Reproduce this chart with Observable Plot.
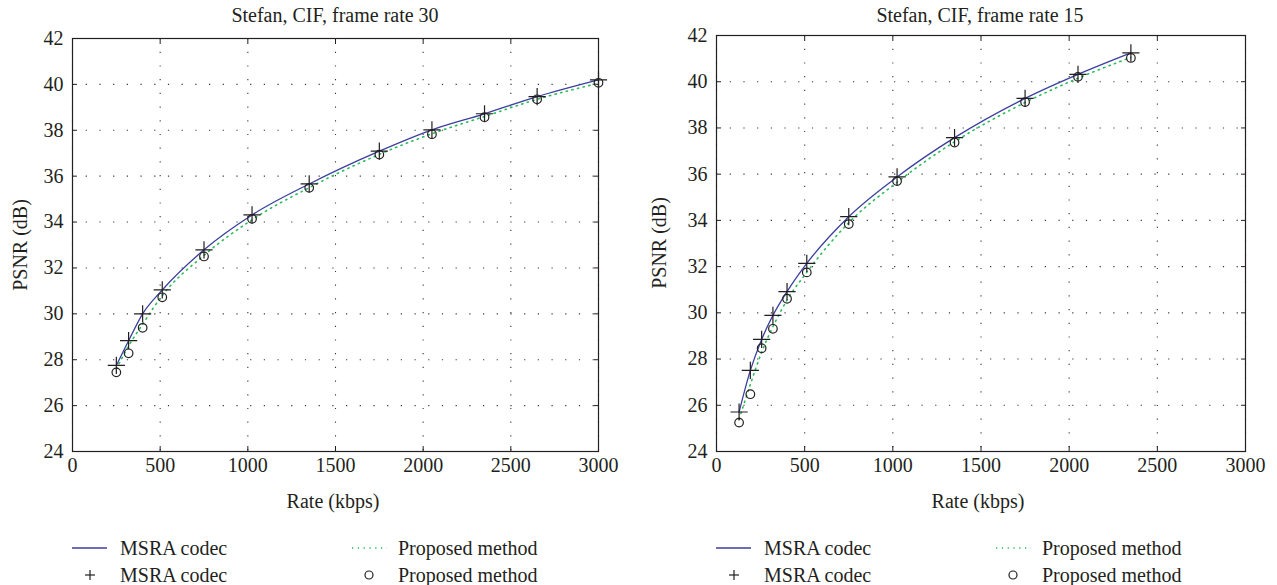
<!DOCTYPE html>
<html><head><meta charset="utf-8">
<script src="https://cdn.jsdelivr.net/npm/d3@7"></script>
<script src="https://cdn.jsdelivr.net/npm/@observablehq/plot@0.6"></script>
<style>
body{margin:0;background:#fff;}
#wrap{position:relative;width:1277px;height:585px;font-family:"Liberation Serif","Times New Roman","DejaVu Serif",serif;color:#231f20;overflow:hidden;}
.t{position:absolute;white-space:nowrap;font-size:20px;line-height:1;}
.p{position:absolute;}
</style></head><body><div id="wrap"></div>
<script>
// ---- data: frame rate 30 ----
const rates30 = [250, 320, 400, 512, 750, 1024, 1350, 1750, 2050, 2350, 2650, 3000];
const msra30 = [27.75, 28.83, 30.0, 31.04, 32.79, 34.31, 35.66, 37.09, 38.02, 38.72, 39.47, 40.2];
const proposed30 = [27.45, 28.28, 29.39, 30.72, 32.5, 34.14, 35.49, 36.94, 37.83, 38.57, 39.35, 40.07];
const proposedCurve30 = [27.6, 28.6, 29.55, 30.8, 32.55, 34.1, 35.5, 36.95, 37.85, 38.6, 39.35, 40.05];
// ---- data: frame rate 15 ----
const rates15 = [128, 192, 256, 320, 400, 512, 750, 1024, 1350, 1750, 2050, 2350];
const msra15 = [25.71, 27.51, 28.85, 29.89, 30.92, 32.14, 34.16, 35.88, 37.58, 39.28, 40.32, 41.25];
const proposed15 = [25.25, 26.48, 28.47, 29.31, 30.61, 31.75, 33.84, 35.7, 37.37, 39.12, 40.21, 41.03];
const proposedCurve15 = [25.4, 26.9, 28.3, 29.4, 30.55, 31.75, 33.9, 35.65, 37.4, 39.1, 40.15, 41.05];
// ---- ticks & labels ----
const xTicks = [0, 500, 1000, 1500, 2000, 2500, 3000];
const yTicks = [24, 26, 28, 30, 32, 34, 36, 38, 40, 42];
const titles = ["Stefan, CIF, frame rate 30", "Stefan, CIF, frame rate 15"];
const xLabel = "Rate (kbps)";
const yLabel = "PSNR (dB)";
const seriesNames = ["MSRA codec", "Proposed method"];

const BLUE = "#3b3f9e", GREEN = "#2dbb5a", INK = "#231f20";
const FONT = "Liberation Serif, Times New Roman, DejaVu Serif, serif";
const wrap = document.getElementById("wrap");

function makeChart(rates, msra, proposed, curve, cfg) {
  const msraRows = rates.map((r, i) => ({rate: r, psnr: msra[i]}));
  const propRows = rates.map((r, i) => ({rate: r, psnr: proposed[i]}));
  const curveRows = rates.map((r, i) => ({rate: r, psnr: curve[i]}));
  const fmt = d => String(d);
  const svg = Plot.plot({
    width: cfg.width, height: cfg.height,
    marginLeft: cfg.ml, marginRight: cfg.mr, marginTop: cfg.mt, marginBottom: cfg.mb,
    style: {fontFamily: FONT, fontSize: "20px", color: INK, background: "transparent", overflow: "visible"},
    x: {domain: [0, 3000], ticks: xTicks},
    y: {domain: [24, 42], ticks: yTicks},
    marks: [
      Plot.gridX(xTicks, {stroke: INK, strokeOpacity: 0.9, strokeWidth: 1.1, strokeDasharray: "1.2,12.5"}),
      Plot.gridY(yTicks, {stroke: INK, strokeOpacity: 0.9, strokeWidth: 1.1, strokeDasharray: "1.2,12.5"}),
      Plot.axisX(xTicks, {anchor: "bottom", tickSize: 0, tickPadding: 6, label: null, tickFormat: fmt, fontSize: 20, fontFamily: FONT}),
      Plot.axisY(yTicks, {anchor: "left", tickSize: 0, tickPadding: 9, label: null, tickFormat: fmt, fontSize: 20, fontFamily: FONT}),
      Plot.axisX(xTicks, {anchor: "bottom", tickSize: -5, tickFormat: () => "", label: null, stroke: INK}),
      Plot.axisX(xTicks, {anchor: "top", tickSize: -5, tickFormat: () => "", label: null, stroke: INK}),
      Plot.axisY(yTicks, {anchor: "left", tickSize: -5, tickFormat: () => "", label: null, stroke: INK}),
      Plot.axisY(yTicks, {anchor: "right", tickSize: -5, tickFormat: () => "", label: null, stroke: INK}),
      Plot.line(curveRows, {x: "rate", y: "psnr", stroke: GREEN, strokeWidth: 1.6, strokeDasharray: "1.3,4.5", curve: "monotone-x"}),
      Plot.line(msraRows, {x: "rate", y: "psnr", stroke: BLUE, strokeWidth: 1.3, curve: "monotone-x"}),
      Plot.dot(msraRows, {x: "rate", y: "psnr", symbol: "plus", r: 5.6, stroke: INK, strokeWidth: 1.2}),
      Plot.dot(propRows, {x: "rate", y: "psnr", symbol: "circle", r: 4.3, stroke: INK, strokeWidth: 1.2, fill: "none"}),
      Plot.frame({stroke: INK, strokeWidth: 1.2})
    ]
  });
  svg.classList.add("p");
  svg.style.left = cfg.left + "px";
  svg.style.top = "0px";
  wrap.appendChild(svg);
}

function txt(s, x, y, anchor = "middle", rotate = 0) {
  const d = document.createElement("div");
  d.className = "t";
  d.textContent = s;
  d.style.left = x + "px";
  d.style.top = y + "px";
  const tx = anchor === "middle" ? "-50%" : anchor === "end" ? "-100%" : "0";
  d.style.transform = `translate(${tx},-50%)` + (rotate ? ` rotate(${rotate}deg)` : "");
  wrap.appendChild(d);
}

function legend(x0) {
  const s = document.createElementNS("http://www.w3.org/2000/svg", "svg");
  s.setAttribute("width", 400); s.setAttribute("height", 60);
  s.setAttribute("class", "p");
  s.style.left = x0 + "px"; s.style.top = "533px";
  s.innerHTML = `
    <line x1="0" x2="35" y1="15" y2="15" stroke="${BLUE}" stroke-width="1.4"/>
    <line x1="18" x2="18" y1="37" y2="47" stroke="${INK}" stroke-width="1.2"/>
    <line x1="13" x2="23" y1="42" y2="42" stroke="${INK}" stroke-width="1.2"/>
    <line x1="280" x2="315" y1="15" y2="15" stroke="${GREEN}" stroke-width="1.6" stroke-dasharray="1.3,4.5"/>
    <circle cx="297" cy="42" r="4" fill="none" stroke="${INK}" stroke-width="1.2"/>`;
  wrap.appendChild(s);
}

makeChart(rates30, msra30, proposed30, proposedCurve30, {left: 0, width: 640, height: 500, ml: 72, mr: 42, mt: 38, mb: 49});
makeChart(rates15, msra15, proposed15, proposedCurve15, {left: 640, width: 637, height: 500, ml: 76, mr: 32, mt: 35, mb: 49});

txt(titles[0], 335, 15);
txt(titles[1], 980, 15);
txt(xLabel, 333, 501);
txt(xLabel, 978, 501);
txt(yLabel, 20, 245, "middle", -90);
txt(yLabel, 659, 243, "middle", -90);

legend(72);
legend(716);
txt(seriesNames[0], 120, 548, "start");
txt(seriesNames[0], 120, 575, "start");
txt(seriesNames[1], 398, 548, "start");
txt(seriesNames[1], 398, 575, "start");
txt(seriesNames[0], 764, 548, "start");
txt(seriesNames[0], 764, 575, "start");
txt(seriesNames[1], 1042, 548, "start");
txt(seriesNames[1], 1042, 575, "start");
</script></body></html>
